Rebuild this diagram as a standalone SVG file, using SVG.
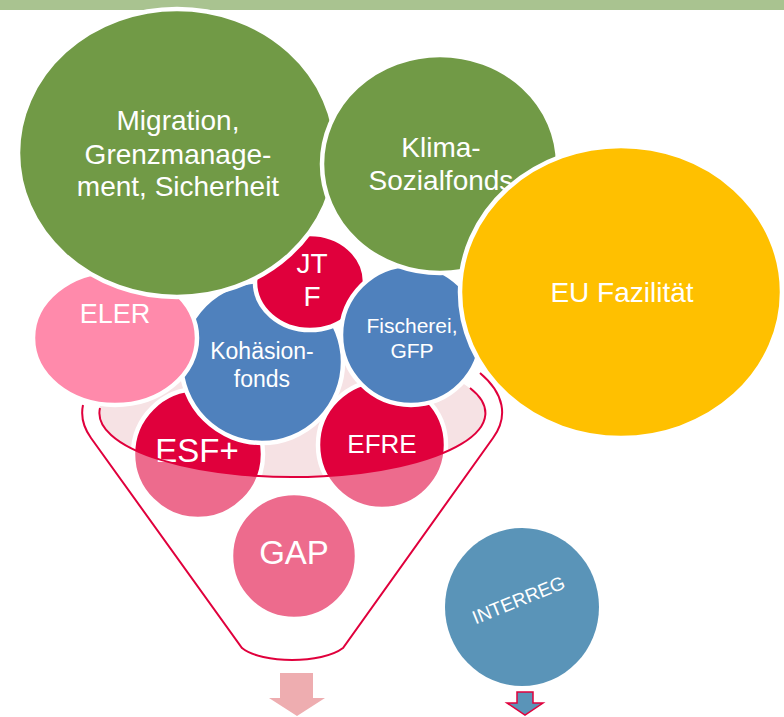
<svg xmlns="http://www.w3.org/2000/svg" width="784" height="717" viewBox="0 0 784 717">
<style>
.c{stroke:#fff;stroke-width:4.5}
.t{font-family:"Liberation Sans",Arial,sans-serif;fill:#fff;text-anchor:middle}
.green{fill:#719A46}
.blue{fill:#4F81BD}
.red{fill:#E0003C}
.ln{fill:none;stroke:#E0003C;stroke-width:2}
</style>
<rect x="0" y="0" width="784" height="10" fill="#A9C390"/>
<g id="funnel-back">
<ellipse cx="292" cy="413" rx="193" ry="64" fill="#F6E2E4"/>
</g>
<g id="esf"><circle class="c red" cx="198" cy="454" r="65"/><text class="t" x="197" y="462" font-size="33">ESF+</text></g>
<g id="efre"><circle class="c red" cx="382" cy="445" r="64"/><text class="t" x="382" y="453" font-size="26">EFRE</text></g>
<g id="gap"><circle class="c red" cx="294" cy="556" r="63"/><text class="t" x="294" y="564" font-size="33">GAP</text></g>
<g id="kohaesion"><circle class="c blue" cx="262" cy="362" r="81"/><text class="t" x="262" y="359" font-size="23">Kohäsion-</text><text class="t" x="262" y="387" font-size="23">fonds</text></g>
<g id="eler"><ellipse class="c" fill="#FF8AAB" cx="115" cy="338" rx="82" ry="67"/><text class="t" x="115" y="323" font-size="27">ELER</text></g>
<g id="jtf"><ellipse class="c red" cx="310" cy="282" rx="55" ry="48"/><text class="t" x="312" y="273" font-size="28">JT</text><text class="t" x="312" y="306" font-size="28">F</text></g>
<g id="fischerei"><circle class="c blue" cx="411" cy="335" r="70"/><text class="t" x="412" y="333" font-size="21">Fischerei,</text><text class="t" x="412" y="358" font-size="21">GFP</text></g>
<g id="migration"><ellipse class="c green" cx="177" cy="153" rx="159" ry="144"/><text class="t" x="178" y="130" font-size="28">Migration,</text><text class="t" x="178" y="164" font-size="28">Grenzmanage-</text><text class="t" x="178" y="196" font-size="28">ment, Sicherheit</text></g>
<g id="klima"><ellipse class="c green" cx="440" cy="164" rx="118" ry="109"/><text class="t" x="441" y="157" font-size="28">Klima-</text><text class="t" x="441" y="190" font-size="28">Sozialfonds</text></g>
<g id="eu-fazilitaet"><ellipse class="c" fill="#FFC000" cx="621" cy="292" rx="161" ry="146"/><text class="t" x="622" y="302" font-size="28">EU Fazilität</text></g>
<g id="funnel-front">
<path d="M99,413 A193 64 0 0 0 485,413 L502,413 A210 88 0 0 1 493,438 L343,648 C322,664 262,664 242,648 L91,438 A210 88 0 0 1 82,413 Z" fill="#fff" fill-opacity="0.42"/>
<path class="ln" d="M83,405 A210 88 0 0 0 91,438 L242,648 C262,664 322,664 343,648 L493,438 A210 88 0 0 0 480,373"/>
<path class="ln" d="M100,408 A193 64 0 1 0 470,388"/>
</g>
<g id="interreg"><ellipse fill="#5A94B8" cx="522" cy="607" rx="77" ry="79"/><text class="t" x="521" y="606" font-size="19" transform="rotate(-22 521 606)">INTERREG</text></g>
<g id="connectors">
<polygon points="280,673 313,673 313,698 325,698 297,716 269,698 280,698" fill="#EEADB0"/>
<polygon points="517,692 533,692 533,703 543,703 525,715 507,703 517,703" fill="#5A94B8" stroke="#E0003C" stroke-width="1.5"/>
</g>
</svg>
